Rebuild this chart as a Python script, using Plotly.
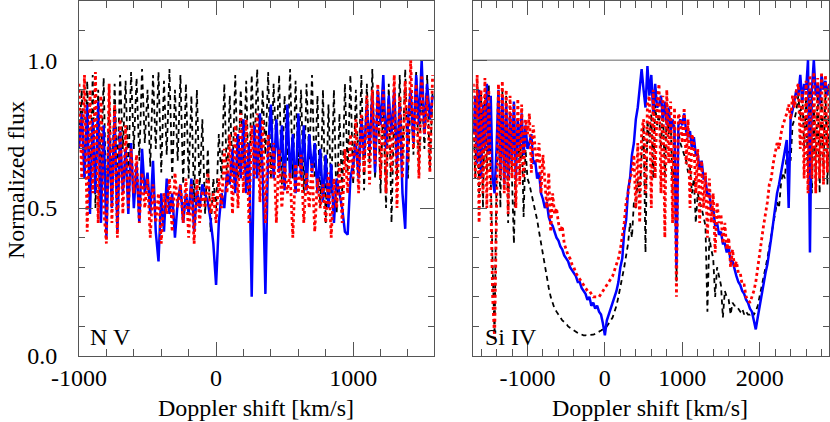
import plotly.graph_objects as go

# ---------------- data: N V panel ----------------
v_nv = [
    -1000, -980, -960, -940, -920, -900, -880, -860, -840, -820,
    -800, -780, -760, -740, -720, -700, -680, -660, -640, -620,
    -600, -580, -560, -540, -520, -500, -480, -460, -440, -420,
    -400, -380, -360, -340, -320, -300, -280, -260, -240, -220,
    -200, -180, -160, -140, -120, -100, -80, -60, -40, -20,
    0, 20, 40, 60, 80, 100, 120, 140, 160, 180,
    200, 220, 240, 260, 280, 300, 320, 340, 360, 380,
    400, 420, 440, 460, 480, 500, 520, 540, 560, 580,
    600, 620, 640, 660, 680, 700, 720, 740, 760, 780,
    800, 820, 840, 860, 880, 900, 920, 940, 960, 980,
    1000, 1020, 1040, 1060, 1080, 1100, 1120, 1140, 1160, 1180,
    1200, 1220, 1240, 1260, 1280, 1300, 1320, 1340, 1360, 1380,
    1400, 1420, 1440, 1460, 1480, 1500, 1520, 1540, 1560, 1580,
]
nv_black = [
    0.72, 0.9, 0.6, 0.93, 0.55, 0.95, 0.5, 0.9, 0.62, 0.94,
    0.48, 0.88, 0.55, 0.92, 0.6, 0.95, 0.7, 0.93, 0.62, 0.96,
    0.7, 0.94, 0.66, 0.97, 0.72, 0.9, 0.64, 0.95, 0.7, 0.96,
    0.62, 0.93, 0.68, 0.97, 0.6, 0.9, 0.66, 0.95, 0.58, 0.92,
    0.6, 0.88, 0.52, 0.9, 0.56, 0.8, 0.48, 0.7, 0.42, 0.6,
    0.5, 0.75, 0.6, 0.92, 0.58, 0.88, 0.62, 0.95, 0.6, 0.9,
    0.65, 0.93, 0.55, 0.95, 0.7, 0.97, 0.62, 0.9, 0.68, 0.96,
    0.6, 0.92, 0.7, 0.95, 0.58, 0.88, 0.66, 0.97, 0.6, 0.93,
    0.64, 0.9, 0.55, 0.92, 0.66, 0.95, 0.6, 0.88, 0.5, 0.9,
    0.45, 0.85, 0.55, 0.9, 0.48, 0.82, 0.55, 0.92, 0.62, 0.95,
    0.58, 0.9, 0.62, 0.95, 0.56, 0.92, 0.65, 0.97, 0.6, 0.9,
    0.55, 0.88, 0.5, 0.92, 0.45, 0.85, 0.6, 0.95, 0.65, 0.97,
    0.6, 0.9, 0.68, 0.96, 0.62, 0.93, 0.7, 0.95, 0.63, 0.9,
]
nv_blue = [
    0.7, 0.82, 0.6, 0.85, 0.48, 0.8, 0.55, 0.86, 0.45, 0.78,
    0.4, 0.75, 0.5, 0.82, 0.42, 0.76, 0.55, 0.7, 0.48, 0.72,
    0.5, 0.65, 0.45, 0.7, 0.55, 0.62, 0.48, 0.66, 0.42, 0.32,
    0.55, 0.42, 0.6, 0.48, 0.55, 0.4, 0.52, 0.58, 0.45, 0.55,
    0.48, 0.6, 0.42, 0.56, 0.5, 0.58, 0.55, 0.52, 0.46, 0.38,
    0.24, 0.45, 0.55, 0.5, 0.62, 0.58, 0.7, 0.55, 0.75, 0.6,
    0.8, 0.55, 0.72, 0.2, 0.78, 0.6, 0.82, 0.62, 0.21, 0.7,
    0.85, 0.6, 0.8, 0.62, 0.78, 0.56, 0.85, 0.6, 0.75, 0.55,
    0.82, 0.6, 0.78, 0.56, 0.75, 0.62, 0.72, 0.55, 0.7, 0.52,
    0.68, 0.5, 0.65, 0.45, 0.6, 0.55, 0.5, 0.42, 0.41, 0.6,
    0.65, 0.72, 0.6, 0.8, 0.68, 0.85, 0.7, 0.88, 0.62, 0.9,
    0.78, 0.95, 0.7, 0.88, 0.75, 0.9, 0.65, 0.85, 0.55, 0.43,
    0.8, 0.9, 0.72, 0.95, 0.78, 1.0, 0.75, 0.92, 0.8, 0.88,
]
nv_red = [
    0.92, 0.6, 0.95, 0.42, 0.9, 0.55, 0.96, 0.45, 0.88, 0.5,
    0.38, 0.92, 0.45, 0.85, 0.4, 0.8, 0.48, 0.78, 0.5, 0.7,
    0.55, 0.68, 0.45, 0.62, 0.5, 0.6, 0.4, 0.58, 0.45, 0.55,
    0.38, 0.55, 0.48, 0.6, 0.42, 0.62, 0.5, 0.58, 0.45, 0.6,
    0.4, 0.58, 0.38, 0.6, 0.45, 0.56, 0.5, 0.62, 0.48, 0.55,
    0.45, 0.6, 0.5, 0.7, 0.55, 0.75, 0.48, 0.78, 0.5, 0.82,
    0.55, 0.8, 0.45, 0.78, 0.6, 0.82, 0.52, 0.8, 0.45, 0.75,
    0.6, 0.72, 0.45, 0.7, 0.5, 0.65, 0.55, 0.62, 0.4, 0.65,
    0.55, 0.68, 0.45, 0.62, 0.5, 0.65, 0.42, 0.6, 0.5, 0.58,
    0.45, 0.62, 0.4, 0.6, 0.5, 0.65, 0.45, 0.7, 0.55, 0.75,
    0.6, 0.8, 0.55, 0.82, 0.62, 0.88, 0.58, 0.9, 0.65, 0.92,
    0.6, 0.9, 0.55, 0.85, 0.62, 0.95, 0.5, 0.88, 0.6, 0.93,
    0.65, 1.0, 0.7, 0.92, 0.6, 0.95, 0.75, 0.88, 0.62, 0.95,
]

# ---------------- data: Si IV panel ----------------
v_si = [
    -1700, -1675, -1650, -1625, -1600, -1575, -1550, -1525,
    -1500, -1475, -1450, -1425, -1400, -1375, -1350, -1325,
    -1300, -1275, -1250, -1225, -1200, -1175, -1150, -1125,
    -1100, -1075, -1050, -1025, -1000, -975, -950, -925,
    -900, -875, -850, -825, -800, -775, -750, -725,
    -700, -675, -650, -625, -600, -575, -550, -525,
    -500, -475, -450, -425, -400, -375, -350, -325,
    -300, -275, -250, -225, -200, -175, -150, -125,
    -100, -75, -50, -25, 0, 25, 50, 75,
    100, 125, 150, 175, 200, 225, 250, 275,
    300, 325, 350, 375, 400, 425, 450, 475,
    500, 525, 550, 575, 600, 625, 650, 675,
    700, 725, 750, 775, 800, 825, 850, 875,
    900, 925, 950, 975, 1000, 1025, 1050, 1075,
    1100, 1125, 1150, 1175, 1200, 1225, 1250, 1275,
    1300, 1325, 1350, 1375, 1400, 1425, 1450, 1475,
    1500, 1525, 1550, 1575, 1600, 1625, 1650, 1675,
    1700, 1725, 1750, 1775, 1800, 1825, 1850, 1875,
    1900, 1925, 1950, 1975, 2000, 2025, 2050, 2075,
    2100, 2125, 2150, 2175, 2200, 2225, 2250, 2275,
    2300, 2325, 2350, 2375, 2400, 2425, 2450, 2475,
    2500, 2525, 2550, 2575, 2600, 2625, 2650, 2675,
    2700, 2725, 2750, 2775, 2800, 2825, 2850, 2875,
    2900,
]
si_black = [
    0.8, 0.6, 0.92, 0.55, 0.9, 0.5, 0.88, 0.62,
    0.92, 0.55, 0.3, 0.07, 0.6, 0.85, 0.5, 0.9,
    0.6, 0.88, 0.45, 0.82, 0.55, 0.38, 0.7, 0.8,
    0.62, 0.78, 0.47, 0.7, 0.6, 0.58, 0.55, 0.52,
    0.5, 0.46, 0.42, 0.38, 0.34, 0.3, 0.27, 0.23,
    0.2, 0.18, 0.16, 0.15, 0.14, 0.13, 0.12, 0.115,
    0.11, 0.1, 0.095, 0.09, 0.085, 0.08, 0.078, 0.075,
    0.072, 0.07, 0.07, 0.07, 0.07, 0.07, 0.072, 0.075,
    0.078, 0.082, 0.086, 0.09, 0.095, 0.1, 0.11, 0.12,
    0.13, 0.15, 0.17, 0.2, 0.23, 0.26, 0.3, 0.34,
    0.38, 0.45, 0.4, 0.52, 0.5, 0.6, 0.55, 0.68,
    0.78, 0.35, 0.8, 0.72, 0.82, 0.6, 0.85, 0.78,
    0.82, 0.7, 0.85, 0.6, 0.83, 0.75, 0.8, 0.55,
    0.78, 0.25, 0.76, 0.72, 0.7, 0.68, 0.66, 0.62,
    0.64, 0.55, 0.6, 0.45, 0.55, 0.52, 0.5, 0.47,
    0.44, 0.15, 0.4, 0.36, 0.33, 0.2, 0.3, 0.27,
    0.24, 0.13, 0.22, 0.2, 0.19, 0.14, 0.18, 0.17,
    0.17, 0.16, 0.15, 0.16, 0.14, 0.15, 0.14, 0.14,
    0.15, 0.14, 0.15, 0.17, 0.2, 0.23, 0.26, 0.3,
    0.33, 0.37, 0.41, 0.45, 0.49, 0.52, 0.5, 0.58,
    0.62, 0.6, 0.68, 0.7, 0.66, 0.78, 0.8, 0.83,
    0.88, 0.8, 0.9, 0.7, 0.88, 0.6, 0.9, 0.55,
    0.85, 0.6, 0.9, 0.55, 0.88, 0.62, 0.9, 0.58,
    0.85,
]
si_blue = [
    0.75, 0.88, 0.65, 0.9, 0.6, 0.85, 0.7, 0.92,
    0.68, 0.88, 0.6, 0.55, 0.7, 0.9, 0.62, 0.88,
    0.58, 0.85, 0.6, 0.82, 0.65, 0.86, 0.6, 0.8,
    0.7, 0.82, 0.68, 0.78, 0.7, 0.72, 0.75, 0.65,
    0.66, 0.6, 0.62, 0.55, 0.53, 0.5, 0.52, 0.47,
    0.45, 0.44, 0.42, 0.4, 0.39, 0.37, 0.36, 0.34,
    0.33, 0.32, 0.3, 0.29, 0.28, 0.27, 0.25, 0.25,
    0.23, 0.22, 0.21, 0.19, 0.2, 0.17, 0.18, 0.16,
    0.17, 0.15, 0.14, 0.11, 0.07, 0.12, 0.14, 0.16,
    0.18, 0.2, 0.22, 0.25, 0.3, 0.33, 0.42, 0.46,
    0.56, 0.6, 0.68, 0.72, 0.8, 0.84, 0.9, 0.97,
    0.9, 0.84, 0.98, 0.88, 0.95, 0.82, 0.92, 0.84,
    0.85, 0.88, 0.8, 0.86, 0.78, 0.84, 0.76, 0.8,
    0.76, 0.3, 0.78, 0.8, 0.78, 0.82, 0.76, 0.74,
    0.76, 0.7, 0.74, 0.68, 0.68, 0.63, 0.66, 0.6,
    0.6, 0.54, 0.55, 0.49, 0.5, 0.44, 0.45, 0.41,
    0.42, 0.38, 0.38, 0.35, 0.37, 0.32, 0.32, 0.29,
    0.27, 0.25, 0.24, 0.22, 0.21, 0.19, 0.18, 0.16,
    0.15, 0.12, 0.09, 0.13, 0.17, 0.2, 0.24, 0.28,
    0.31, 0.35, 0.4, 0.45, 0.5, 0.55, 0.58, 0.62,
    0.66, 0.7, 0.73, 0.5, 0.8, 0.83, 0.86, 0.9,
    0.88, 0.95, 0.86, 0.92, 0.9, 1.0, 0.35, 0.9,
    1.0, 0.88, 0.92, 0.85, 0.95, 0.9, 0.93, 0.88,
    0.92,
]
si_red = [
    0.92, 0.6, 0.95, 0.45, 0.9, 0.55, 0.94, 0.5,
    0.9, 0.5, 0.2, 0.06, 0.55, 0.92, 0.6, 0.93,
    0.55, 0.9, 0.48, 0.88, 0.6, 0.85, 0.5, 0.87,
    0.58, 0.85, 0.6, 0.8, 0.75, 0.82, 0.62, 0.78,
    0.7, 0.65, 0.72, 0.55, 0.68, 0.6, 0.5, 0.62,
    0.42, 0.55, 0.48, 0.5, 0.45, 0.42, 0.44, 0.38,
    0.36, 0.34, 0.33, 0.31, 0.3, 0.28, 0.27, 0.26,
    0.25, 0.24, 0.23, 0.22, 0.22, 0.21, 0.2, 0.2,
    0.2, 0.2, 0.21, 0.22, 0.23, 0.24, 0.25, 0.26,
    0.27, 0.29, 0.31, 0.33, 0.36, 0.4, 0.45, 0.52,
    0.55, 0.6, 0.62, 0.68, 0.5, 0.72, 0.45, 0.76,
    0.8, 0.55, 0.85, 0.88, 0.5, 0.9, 0.6, 0.85,
    0.92, 0.55, 0.88, 0.4, 0.9, 0.65, 0.86, 0.45,
    0.84, 0.2, 0.82, 0.8, 0.72, 0.84, 0.65, 0.8,
    0.5, 0.75, 0.72, 0.55, 0.7, 0.45, 0.66, 0.5,
    0.62, 0.4, 0.6, 0.45, 0.55, 0.35, 0.52, 0.45,
    0.48, 0.38, 0.45, 0.36, 0.4, 0.3, 0.36, 0.3,
    0.32, 0.28, 0.28, 0.24, 0.24, 0.2, 0.19, 0.18,
    0.2, 0.22, 0.25, 0.3, 0.35, 0.4, 0.44, 0.48,
    0.52, 0.58, 0.6, 0.65, 0.68, 0.72, 0.7, 0.75,
    0.78, 0.8, 0.82, 0.85, 0.8, 0.88, 0.84, 0.9,
    0.92, 0.7, 0.9, 0.6, 0.93, 0.55, 0.95, 0.6,
    0.96, 0.55, 0.94, 0.6, 0.96, 0.58, 0.95, 0.62,
    0.92,
]

nv_xticks = [-1000, 0, 1000]
nv_xticktext = ["-1000", "0", "1000"]
si_xticks = [-1000, 0, 1000, 2000]
si_xticktext = ["-1000", "0", "1000", "2000"]
y_ticks = [0.0, 0.5, 1.0]
y_ticktext = ["0.0", "0.5", "1.0"]

FONT = "Liberation Serif, Times New Roman, serif"
AX = "#555555"

fig = go.Figure()


def add_panel(v, black, blue, red, xa, ya):
    fig.add_trace(go.Scatter(x=v, y=black, mode="lines", xaxis=xa, yaxis=ya,
                             line=dict(color="black", width=1.8, dash="5px,4px")))
    fig.add_trace(go.Scatter(x=v, y=blue, mode="lines", xaxis=xa, yaxis=ya,
                             line=dict(color="#0000ff", width=2.5)))
    fig.add_trace(go.Scatter(x=v, y=red, mode="lines", xaxis=xa, yaxis=ya,
                             line=dict(color="#ff0000", width=2.8, dash="dot")))


add_panel(v_nv, nv_black, nv_blue, nv_red, "x", "y")
add_panel(v_si, si_black, si_blue, si_red, "x2", "y2")


def xax(domain, rng, tv, tt, anchor):
    return dict(domain=domain, range=rng, anchor=anchor, automargin=False,
                tickmode="array", tickvals=tv, ticktext=tt,
                ticks="inside", ticklen=14, tickcolor=AX, tickwidth=1,
                minor=dict(ticks="inside", ticklen=7, tickcolor=AX, dtick=200, tick0=0, showgrid=False),
                showline=True, linecolor=AX, linewidth=1, mirror="ticks",
                showgrid=False, zeroline=False, ticklabelstandoff=0,
                tickfont=dict(family=FONT, size=24, color="black"))


def yax(domain, show_labels, anchor):
    return dict(domain=domain, range=[0, 1.2], anchor=anchor, automargin=False,
                tickmode="array", tickvals=y_ticks, ticktext=y_ticktext,
                showticklabels=show_labels,
                ticks="inside", ticklen=14, tickcolor=AX, tickwidth=1,
                minor=dict(ticks="inside", ticklen=6, tickcolor=AX, dtick=0.1, tick0=0, showgrid=False),
                showline=True, linecolor=AX, linewidth=1, mirror="ticks",
                showgrid=False, zeroline=False, ticklabelstandoff=16,
                tickfont=dict(family=FONT, size=24, color="black"))


def note(text, px, py, angle=0):
    return dict(text=text, x=px / 830, y=1 - py / 422, xref="paper", yref="paper",
                xanchor="center", yanchor="middle", textangle=angle, showarrow=False,
                font=dict(family=FONT, size=24, color="black"))


ydom = [66 / 422, 421 / 422]
fig.update_layout(
    width=830, height=422,
    margin=dict(l=0, r=0, t=0, b=0, autoexpand=False),
    paper_bgcolor="white", plot_bgcolor="white",
    showlegend=False,
    font=dict(family=FONT, size=24, color="black"),
    xaxis=xax([79 / 830, 434 / 830], [-1000, 1590], nv_xticks, nv_xticktext, "y"),
    yaxis=yax(ydom, True, "x"),
    xaxis2=xax([473.3 / 830, 829.3 / 830], [-1700, 2900], si_xticks, si_xticktext, "y2"),
    yaxis2=yax(ydom, False, "x2"),
    shapes=[
        dict(type="line", xref="x domain", yref="y", x0=0, x1=1, y0=1, y1=1,
             line=dict(color="#666666", width=1), layer="below"),
        dict(type="line", xref="x2 domain", yref="y2", x0=0, x1=1, y0=1, y1=1,
             line=dict(color="#666666", width=1), layer="below"),
    ],
    annotations=[
        note("N V", 110, 337),
        note("Si IV", 511, 337),
        note("Doppler shift [km/s]", 256, 408),
        note("Doppler shift [km/s]", 650, 408),
        note("Normalized flux", 16, 180, -90),
    ],
)

fig.write_html("out.html", config={"displayModeBar": False},
               post_script="document.body.style.margin='0px';")
